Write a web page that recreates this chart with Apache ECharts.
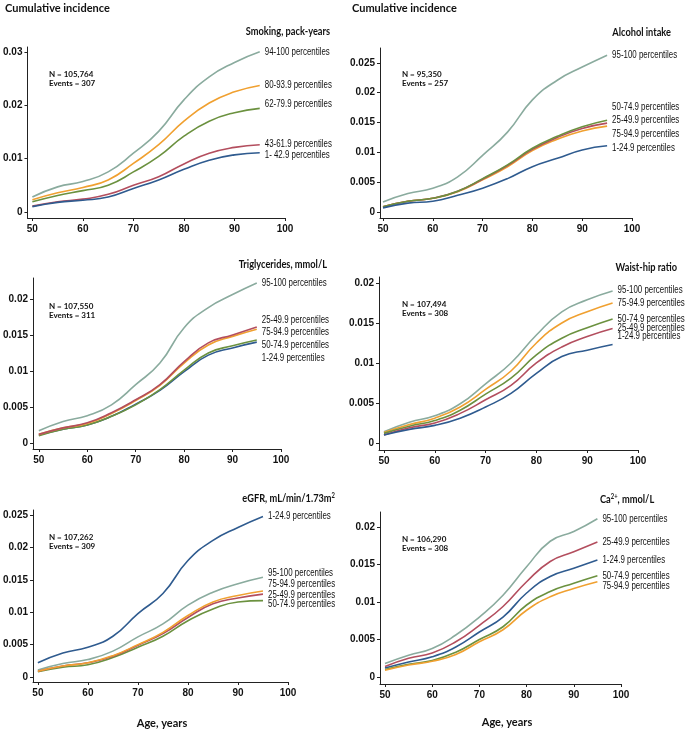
<!DOCTYPE html>
<html>
<head>
<meta charset="utf-8">
<script src="https://cdn.jsdelivr.net/npm/echarts@6/dist/echarts.min.js"></script>
<style>
    html, body { margin: 0; padding: 0; background: #fff; }
    #main { width: 685px; height: 731px; }
</style>
</head>
<body>
<div id="main"></div>
<script>
    // ages (x values) and ticks
    var ages = [50, 55, 60, 65, 70, 75, 80, 85, 90, 95];
    var ageTicks = [50, 60, 70, 80, 90, 100];

    // smoking, pack-years
    var smokingTicks = [0, 0.01, 0.02, 0.03];
    var smk94_100 = [0.0028, 0.0047, 0.0057, 0.0075, 0.0110, 0.0151, 0.0210, 0.0253, 0.0280, 0.0300];
    var smk80_93 = [0.0023, 0.0036, 0.0046, 0.0060, 0.0091, 0.0126, 0.0170, 0.0204, 0.0225, 0.0237];
    var smk62_79 = [0.0019, 0.0031, 0.0040, 0.0050, 0.0075, 0.0104, 0.0142, 0.0170, 0.0186, 0.0194];
    var smk43_61 = [0.0011, 0.0019, 0.0024, 0.0033, 0.0050, 0.0066, 0.0090, 0.0110, 0.0121, 0.0126];
    var smk1_42 = [0.0010, 0.0018, 0.0022, 0.0028, 0.0044, 0.0060, 0.0080, 0.0097, 0.0107, 0.0111];

    // alcohol intake
    var alcoholTicks = [0, 0.005, 0.01, 0.015, 0.02, 0.025];
    var alc95_100 = [0.0017, 0.0031, 0.0040, 0.0059, 0.0095, 0.0134, 0.0188, 0.0221, 0.0243, 0.0263];
    var alc50_74 = [0.0009, 0.0018, 0.0023, 0.0035, 0.0056, 0.0079, 0.0107, 0.0127, 0.0143, 0.0154];
    var alc25_49 = [0.0009, 0.0018, 0.0023, 0.0035, 0.0055, 0.0078, 0.0105, 0.0125, 0.0140, 0.0149];
    var alc75_94 = [0.0009, 0.0018, 0.0023, 0.0034, 0.0054, 0.0076, 0.0103, 0.0122, 0.0136, 0.0144];
    var alc1_24 = [0.0007, 0.0015, 0.0018, 0.0028, 0.0040, 0.0056, 0.0076, 0.0090, 0.0104, 0.0111];

    // triglycerides
    var trigTicks = [0, 0.005, 0.01, 0.015, 0.02];
    var tg95_100 = [0.0017, 0.0030, 0.0038, 0.0053, 0.0081, 0.0111, 0.0160, 0.0188, 0.0206, 0.0222];
    var tg25_49 = [0.0012, 0.0021, 0.0028, 0.0042, 0.0060, 0.0081, 0.0113, 0.0139, 0.0150, 0.0161];
    var tg75_94 = [0.0012, 0.0021, 0.0027, 0.0041, 0.0059, 0.0080, 0.0111, 0.0136, 0.0148, 0.0158];
    var tg50_74 = [0.0010, 0.0019, 0.0025, 0.0037, 0.0053, 0.0074, 0.0101, 0.0125, 0.0135, 0.0143];
    var tg1_24 = [0.0011, 0.0019, 0.0025, 0.0037, 0.0054, 0.0073, 0.0099, 0.0122, 0.0132, 0.0140];

    // waist-hip ratio
    var waistTicks = [0, 0.005, 0.01, 0.015, 0.02];
    var wh95_100 = [0.0014, 0.0026, 0.0034, 0.0049, 0.0074, 0.0100, 0.0135, 0.0164, 0.0179, 0.0190];
    var wh75_94 = [0.0013, 0.0023, 0.0031, 0.0045, 0.0067, 0.0090, 0.0125, 0.0150, 0.0164, 0.0175];
    var wh50_74 = [0.0012, 0.0021, 0.0028, 0.0041, 0.0061, 0.0081, 0.0110, 0.0131, 0.0144, 0.0155];
    var wh25_49 = [0.0010, 0.0019, 0.0025, 0.0037, 0.0054, 0.0072, 0.0100, 0.0120, 0.0133, 0.0143];
    var wh1_24 = [0.0010, 0.0017, 0.0022, 0.0031, 0.0045, 0.0062, 0.0087, 0.0108, 0.0116, 0.0123];

    // eGFR
    var egfrTicks = [0, 0.005, 0.01, 0.015, 0.02, 0.025];
    var eg1_24 = [0.0022, 0.0037, 0.0046, 0.0063, 0.0098, 0.0129, 0.0180, 0.0211, 0.0231, 0.0248];
    var eg95_100 = [0.0011, 0.0021, 0.0027, 0.0040, 0.0062, 0.0082, 0.0111, 0.0131, 0.0144, 0.0154];
    var eg75_94 = [0.0009, 0.0017, 0.0022, 0.0033, 0.0050, 0.0069, 0.0095, 0.0116, 0.0126, 0.0133];
    var eg25_49 = [0.0009, 0.0017, 0.0022, 0.0032, 0.0049, 0.0067, 0.0092, 0.0113, 0.0122, 0.0128];
    var eg50_74 = [0.0008, 0.0015, 0.0019, 0.0030, 0.0046, 0.0063, 0.0087, 0.0105, 0.0116, 0.0118];

    // calcium
    var caTicks = [0, 0.005, 0.01, 0.015, 0.02];
    var ca95_100 = [0.0018, 0.0029, 0.0038, 0.0056, 0.0080, 0.0109, 0.0147, 0.0181, 0.0194, 0.0211];
    var ca25_49 = [0.0014, 0.0025, 0.0032, 0.0047, 0.0069, 0.0094, 0.0127, 0.0154, 0.0167, 0.0180];
    var ca1_24 = [0.0012, 0.0020, 0.0027, 0.0040, 0.0060, 0.0080, 0.0112, 0.0134, 0.0145, 0.0156];
    var ca50_74 = [0.0010, 0.0017, 0.0022, 0.0033, 0.0050, 0.0067, 0.0096, 0.0114, 0.0125, 0.0135];
    var ca75_94 = [0.0009, 0.0016, 0.0021, 0.0030, 0.0047, 0.0063, 0.0089, 0.0107, 0.0118, 0.0127];

    var TEAL = '#8aab9e', ORANGE = '#f0a030', GREEN = '#6b913f', RED = '#b34e5e', BLUE = '#2f5b8f';
    var arial = "'Liberation Sans', Arial, sans-serif";
    var sans = "Lato, 'Open Sans', sans-serif";

    // grids: left edge = y axis line, bottom edge = x axis line
    // lines: [name, values, colour, label shift in px]
    var panels = [
        { grid: [23, 47, 262, 171], x: [49.03, 100], y: [-0.00113, 0.0309], ticks: smokingTicks,
          lines: [['94-100 percentiles', smk94_100, TEAL, 0], ['80-93.9 percentiles', smk80_93, ORANGE, 0],
                  ['62-79.9 percentiles', smk62_79, GREEN, -4], ['43-61.9 percentiles', smk43_61, RED, 0],
                  ['1- 42.9 percentiles', smk1_42, BLUE, 3]] },
        { grid: [380, 48, 252, 170], x: [49.4, 100], y: [-0.001, 0.0275], ticks: alcoholTicks,
          lines: [['95-100 percentiles', alc95_100, TEAL, 0], ['75-94.9 percentiles', alc75_94, ORANGE, 8],
                  ['25-49.9 percentiles', alc25_49, RED, -3], ['50-74.9 percentiles', alc50_74, GREEN, -13],
                  ['1-24.9 percentiles', alc1_24, BLUE, 2]] },
        { grid: [24, 278, 257, 171], x: [48.8, 100], y: [-0.00083, 0.0229], ticks: trigTicks,
          lines: [['95-100 percentiles', tg95_100, TEAL, 0], ['1-24.9 percentiles', tg1_24, BLUE, 16],
                  ['50-74.9 percentiles', tg50_74, GREEN, 5], ['75-94.9 percentiles', tg75_94, ORANGE, 3],
                  ['25-49.9 percentiles', tg25_49, RED, -7]] },
        { grid: [379, 277, 259, 173], x: [49.02, 100], y: [-0.00088, 0.02075], ticks: waistTicks,
          lines: [['95-100 percentiles', wh95_100, TEAL, -1], ['75-94.9 percentiles', wh75_94, ORANGE, 0],
                  ['50-74.9 percentiles', wh50_74, GREEN, 0], ['25-49.9 percentiles', wh25_49, RED, 0],
                  ['1-24.9 percentiles', wh1_24, BLUE, -8]] },
        { grid: [25, 510, 263, 172], x: [49.03, 100], y: [-0.00077, 0.0258], ticks: egfrTicks,
          lines: [['1-24.9 percentiles', eg1_24, BLUE, 0], ['95-100 percentiles', eg95_100, TEAL, -4],
                  ['50-74.9 percentiles', eg50_74, GREEN, 4], ['25-49.9 percentiles', eg25_49, RED, 1],
                  ['75-94.9 percentiles', eg75_94, ORANGE, -7]] },
        { grid: [380, 512, 241, 172], x: [48.94, 100], y: [-0.00093, 0.022], ticks: caTicks,
          lines: [['95-100 percentiles', ca95_100, TEAL, 0], ['25-49.9 percentiles', ca25_49, RED, 0],
                  ['1-24.9 percentiles', ca1_24, BLUE, 0], ['50-74.9 percentiles', ca50_74, GREEN, 0],
                  ['75-94.9 percentiles', ca75_94, ORANGE, 4]] }
    ];

    function fmt(v) { return String(+(+v).toFixed(4)); }

    var grids = [], xAxes = [], yAxes = [], series = [];
    panels.forEach(function (p, i) {
        grids.push({ left: p.grid[0], top: p.grid[1], width: p.grid[2], height: p.grid[3] });
        xAxes.push({
            type: 'value', gridIndex: i, min: p.x[0], max: p.x[1],
            axisLine: { show: true, onZero: false, lineStyle: { color: '#222', width: 1 } },
            axisTick: { show: true, length: 3, customValues: ageTicks, lineStyle: { color: '#222' } },
            axisLabel: { customValues: ageTicks, margin: 6, color: '#111', fontFamily: arial,
                         fontWeight: 'bold', fontSize: 10 },
            splitLine: { show: false }
        });
        yAxes.push({
            type: 'value', gridIndex: i, min: p.y[0], max: p.y[1],
            axisLine: { show: true, onZero: false, lineStyle: { color: '#222', width: 1 } },
            axisTick: { show: true, length: 3, customValues: p.ticks, lineStyle: { color: '#222' } },
            axisLabel: { customValues: p.ticks, margin: 5, color: '#111', fontFamily: arial,
                         fontWeight: 'bold', fontSize: 10, formatter: fmt },
            splitLine: { show: false }
        });
        p.lines.forEach(function (l) {
            series.push({
                type: 'line', name: l[0], xAxisIndex: i, yAxisIndex: i,
                data: ages.map(function (a, k) { return [a, l[1][k]]; }),
                showSymbol: false, symbol: 'none', smooth: 0.5,
                lineStyle: { color: l[2], width: 1.6 },
                itemStyle: { color: l[2] },
                emphasis: { disabled: true }
            });
        });
    });

    // text helper; sx squeezes the text horizontally (condensed faces are not installed)
    function txt(x, y, text, size, align, weight, sx, font, rich) {
        var e = { type: 'text', x: x, y: y, scaleX: sx || 1, silent: true,
                  style: { text: text, fill: '#111', align: align || 'left', verticalAlign: 'middle',
                           fontFamily: font || sans, fontWeight: weight || 'bold', fontSize: size } };
        if (rich) e.style.rich = rich;
        return e;
    }
    var sup = { sup: { fontSize: 7, fontFamily: sans, fontWeight: 'bold', fill: '#111', verticalAlign: 'top' } };

    var graphics = [
        txt(5, 8, 'Cumulative incidence', 11),
        txt(352, 8, 'Cumulative incidence', 11),
        txt(330, 31, 'Smoking, pack-years', 11, 'right', 'bold', 0.84),
        txt(671, 32, 'Alcohol intake', 11, 'right', 'bold', 0.84),
        txt(327, 264, 'Triglycerides, mmol/L', 11, 'right', 'bold', 0.84),
        txt(677, 267, 'Waist-hip ratio', 11, 'right', 'bold', 0.84),
        txt(335, 498, 'eGFR, mL/min/1.73m{sup|2}', 11, 'right', 'bold', 0.84, sans, sup),
        txt(600, 499, 'Ca{sup|2+}, mmol/L', 11, 'left', 'bold', 0.84, sans, sup),
        txt(162, 723, 'Age, years', 11, 'center'),
        txt(507, 722, 'Age, years', 11, 'center')
    ];
    var counts = [
        [49, 74, 'N = 105,764', 'Events = 307'],
        [402, 74, 'N = 95,350', 'Events = 257'],
        [49, 306, 'N = 107,550', 'Events = 311'],
        [402, 304, 'N = 107,494', 'Events = 308'],
        [49, 537, 'N = 107,262', 'Events = 309'],
        [402, 539, 'N = 106,290', 'Events = 308']
    ];
    counts.forEach(function (c) {
        graphics.push(txt(c[0], c[1], c[2], 8, 'left', 'bold'));
        graphics.push(txt(c[0], c[1] + 9, c[3], 8, 'left', 'bold'));
    });

    var chart = echarts.init(document.getElementById('main'));
    chart.setOption({
        animation: false,
        backgroundColor: '#fff',
        grid: grids,
        xAxis: xAxes,
        yAxis: yAxes,
        series: series
    });

    // series names placed at the end of each line
    panels.forEach(function (p, i) {
        p.lines.forEach(function (l) {
            var n = ages.length - 1;
            var pt = chart.convertToPixel({ gridIndex: i }, [ages[n], l[1][n]]);
            graphics.push(txt(pt[0] + 5, pt[1] + l[3], l[0], 10, 'left', 'normal', 0.79, arial));
        });
    });
    chart.setOption({ graphic: graphics });
</script>
</body>
</html>
